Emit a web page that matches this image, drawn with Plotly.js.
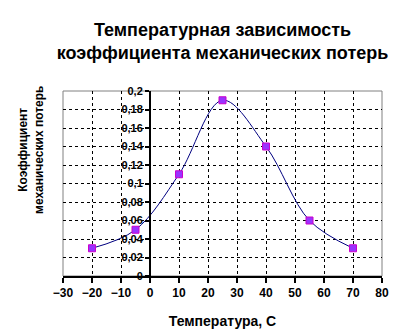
<!DOCTYPE html>
<html>
<head>
<meta charset="utf-8">
<script src="https://cdn.plot.ly/plotly-3.0.1.min.js"></script>
<style>html,body{margin:0;padding:0;background:#fff;}#chart{width:406px;height:333px;}</style>
</head>
<body>
<div id="chart"></div>
<script>
var temperatures = [-20, -5, 10, 25, 40, 55, 70];
var lossCoefficients = [0.03, 0.05, 0.11, 0.19, 0.14, 0.06, 0.03];
var yTickValues = [0, 0.02, 0.04, 0.06, 0.08, 0.1, 0.12, 0.14, 0.16, 0.18, 0.2];
var yTickLabels = ["0", "0,02", "0,04", "0,06", "0,08", "0,1", "0,12", "0,14", "0,16", "0,18", "0,2"];
var xRange = [-30, 80];
var yRange = [0, 0.2];
var titleText = "Температурная зависимость<br>коэффициента механических потерь";
var xTitleText = "Температура, С";
var yTitleText = "Коэффициент<br>механических потерь";

var fontFamily = 'Arial, "Liberation Sans", sans-serif';

var trace = {
  x: temperatures,
  y: lossCoefficients,
  type: 'scatter',
  mode: 'lines+markers',
  line: {shape: 'spline', smoothing: 1, color: '#000080', width: 1},
  marker: {symbol: 'square', size: 7, color: '#9933ff', line: {color: '#cc00cc', width: 1}},
  hoverinfo: 'none'
};

var yPos = (0 - xRange[0]) / (xRange[1] - xRange[0]);

var layout = {
  width: 406, height: 333,
  margin: {l: 63, r: 24, t: 91, b: 57},
  paper_bgcolor: '#ffffff', plot_bgcolor: '#ffffff',
  showlegend: false,
  font: {family: fontFamily, color: '#000000'},
  title: {
    text: '<b>' + titleText + '</b>',
    font: {family: fontFamily, size: 18, color: '#000000'},
    x: 0.5, xref: 'paper', xanchor: 'center',
    y: 1 - 36 / 333, yref: 'container', yanchor: 'middle'
  },
  xaxis: {
    range: xRange, dtick: 10, tick0: 0,
    showgrid: true, gridcolor: '#000000', gridwidth: 1, griddash: '3px,3px',
    zeroline: false,
    showline: true, linecolor: '#000000', linewidth: 2,
    ticks: 'outside', ticklen: 5, tickwidth: 2, tickcolor: '#000000',
    tickfont: {family: fontFamily, size: 12, color: '#000000', weight: 'bold'},
    title: {text: '<b>' + xTitleText + '</b>', font: {family: fontFamily, size: 14, color: '#000000'}, standoff: 17},
    fixedrange: true
  },
  yaxis: {
    range: yRange,
    tickmode: 'array', tickvals: yTickValues, ticktext: yTickLabels,
    anchor: 'free', position: yPos,
    showgrid: true, gridcolor: '#000000', gridwidth: 1, griddash: '3px,3px',
    zeroline: false,
    showline: true, linecolor: '#000000', linewidth: 2,
    ticks: 'outside', ticklen: 4, tickwidth: 2, tickcolor: '#000000',
    tickfont: {family: fontFamily, size: 11, color: '#000000', weight: 'bold'},
    fixedrange: true
  },
  shapes: [{
    type: 'rect', xref: 'paper', yref: 'paper', x0: 0, x1: 1, y0: 0, y1: 1,
    line: {color: '#808080', width: 1}, layer: 'below'
  }],
  annotations: [{
    text: '<b>' + yTitleText + '</b>',
    xref: 'paper', yref: 'paper',
    x: (31 - 63) / 319, y: (276 - 150) / 185,
    xanchor: 'center', yanchor: 'middle',
    textangle: -90, showarrow: false,
    font: {family: fontFamily, size: 12, color: '#000000'}
  }]
};

Plotly.newPlot('chart', [trace], layout, {displayModeBar: false, staticPlot: true});
</script>
</body>
</html>
